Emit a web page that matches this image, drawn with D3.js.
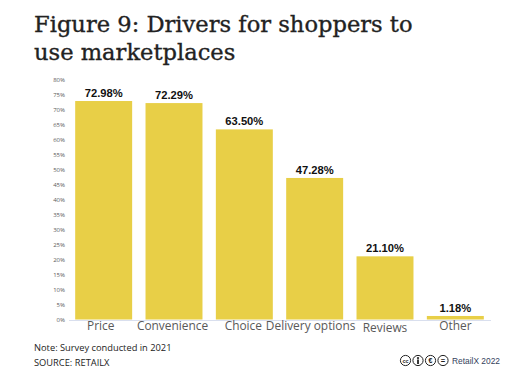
<!DOCTYPE html>
<html>
<head>
<meta charset="utf-8">
<script src="https://cdn.jsdelivr.net/npm/d3@7"></script>
<style>
  html, body { margin: 0; padding: 0; background: #fff; }
  svg { display: block; }
</style>
</head>
<body>
<svg id="chart" width="526" height="381"></svg>
<script>
const categories = ["Price", "Convenience", "Choice", "Delivery options", "Reviews", "Other"]
const shares = [72.98, 72.29, 63.50, 47.28, 21.10, 1.18]
const yTicks = [0, 5, 10, 15, 20, 25, 30, 35, 40, 45, 50, 55, 60, 65, 70, 75, 80]
const titleLines = ["Figure 9: Drivers for shoppers to", "use marketplaces"]
const ccIcons = ["cc", "by", "nc", "nd"]

const svg = d3.select("#chart")

const x = d3.scaleBand().domain(categories).range([68.5, 490.5]).paddingInner(0.19).paddingOuter(0.095)
const y = d3.scaleLinear().domain([0, 80]).range([319.5, 80])

// title
svg.selectAll("text.title")
  .data(titleLines)
  .enter()
    .append("text")
    .attr("class", "title")
    .attr("x", 34)
    .attr("y", (d, i) => 32 + i * 28)
    .attr("font-family", "'DejaVu Serif'")
    .attr("font-size", 22.6)
    .attr("fill", "#222")
    .attr("stroke", "#222")
    .attr("stroke-width", 0.35)
    .text(d => d)

// y axis, no line
let yAxis = svg.append("g")
  .attr("transform", "translate(65,0)")
  .call(d3.axisLeft(y).tickValues(yTicks).tickSize(0).tickPadding(0).tickFormat(d => d + "%"))
yAxis.select(".domain").remove()
yAxis.selectAll("text")
  .attr("font-family", "'Open Sans'")
  .attr("font-size", 6)
  .attr("fill", "#595959")

// bars
svg.selectAll("rect.bar")
  .data(shares)
  .enter()
    .append("rect")
    .attr("class", "bar")
    .attr("x", (d, i) => x(categories[i]))
    .attr("y", d => y(d))
    .attr("width", x.bandwidth())
    .attr("height", d => y(0) - y(d))
    .attr("fill", "#e8cf47")

// value labels
svg.selectAll("text.value")
  .data(shares)
  .enter()
    .append("text")
    .attr("class", "value")
    .attr("x", (d, i) => x(categories[i]) + x.bandwidth() / 2)
    .attr("y", d => y(d) - 4)
    .attr("text-anchor", "middle")
    .attr("font-family", "'Liberation Sans'")
    .attr("font-weight", "bold")
    .attr("font-size", 11.2)
    .attr("fill", "#111")
    .text(d => d.toFixed(2) + "%")

// x axis
let xAxis = svg.append("g")
  .attr("transform", "translate(0,320)")
  .call(d3.axisBottom(x).tickSize(0).tickPadding(2))
xAxis.select(".domain").attr("stroke", "#d9dfee").attr("stroke-width", 1.2)
xAxis.selectAll("text")
  .attr("font-family", "'Open Sans'")
  .attr("font-size", 11.9)
  .attr("fill", "#595959")

// the category labels sit a little off centre in the original
const labelNudgeX = {"Price": -3, "Convenience": -1.5, "Choice": -1, "Delivery options": -4}
xAxis.selectAll("text")
  .attr("dx", d => labelNudgeX[d] || 0)
  .attr("dy", d => d == "Reviews" ? "1.71em" : "0.71em")
  .filter(d => d == "Reviews").attr("dy", "0.8em")

// footer
svg.append("text")
  .attr("x", 34).attr("y", 351)
  .attr("font-family", "'Open Sans'").attr("font-size", 9.3).attr("fill", "#222")
  .text("Note: Survey conducted in 2021")
svg.append("text")
  .attr("x", 34).attr("y", 366)
  .attr("font-family", "'Open Sans'").attr("font-size", 9.3).attr("fill", "#222")
  .text("SOURCE: RETAILX")

// licence badges
let badge = svg.selectAll("g.badge")
  .data(ccIcons)
  .enter()
    .append("g")
    .attr("class", "badge")
    .attr("transform", (d, i) => `translate(${405.5 + i * 12.5},360.5)`)
badge.append("circle").attr("r", 5.1).attr("fill", "#fff").attr("stroke", "#222").attr("stroke-width", 1)
badge.filter(d => d == "cc").append("text")
  .attr("text-anchor", "middle").attr("y", 2)
  .attr("font-family", "'Liberation Sans'").attr("font-weight", "bold").attr("font-size", 5.5).attr("fill", "#222")
  .text("cc")
badge.filter(d => d == "nc").append("text")
  .attr("text-anchor", "middle").attr("y", 2.5)
  .attr("font-family", "'Liberation Sans'").attr("font-weight", "bold").attr("font-size", 7).attr("fill", "#222")
  .text("€")
badge.filter(d => d == "nd").append("text")
  .attr("text-anchor", "middle").attr("y", 2.5)
  .attr("font-family", "'Liberation Sans'").attr("font-weight", "bold").attr("font-size", 7.5).attr("fill", "#222")
  .text("=")
badge.filter(d => d == "by").append("circle").attr("cy", -2.4).attr("r", 1.1).attr("fill", "#222")
badge.filter(d => d == "by").append("line")
  .attr("y1", -1).attr("y2", 3.5).attr("stroke", "#222").attr("stroke-width", 1.8)

svg.append("text")
  .attr("x", 452).attr("y", 364)
  .attr("font-family", "'Liberation Sans'").attr("font-size", 8.4).attr("fill", "#33415c")
  .text("RetailX 2022")
</script>
</body>
</html>
